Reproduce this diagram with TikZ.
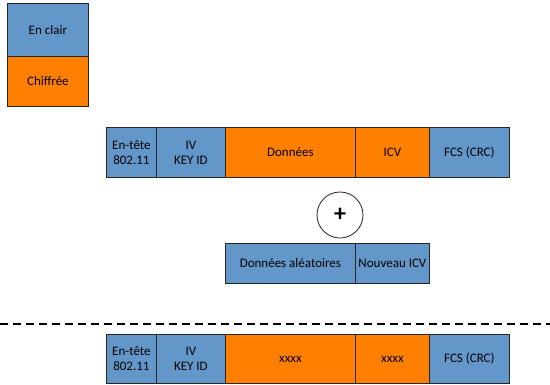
\documentclass[tikz,border=0pt]{standalone}
\usepackage{fontspec}
\setmainfont{Carlito}
\definecolor{clair}{HTML}{6497C9}
\definecolor{chiffre}{HTML}{FF8000}
\tikzset{
  field/.style={draw=black!85, line width=0.8pt, minimum height=#1, inner sep=0pt,
    font=\fontsize{13}{15}\selectfont, align=center, anchor=north west},
  plain/.style={field=#1, fill=clair},
  cipher/.style={field=#1, fill=chiffre},
}
\begin{document}
\begin{tikzpicture}[x=1pt, y=-1pt]
\useasboundingbox (0,0) rectangle (550,385);
% legend
\node[plain=53pt, minimum width=81pt] (legclair) at (7,3) {En clair};
\node[cipher=50pt, minimum width=81pt] (legchiff) at (7,56) {Chiffrée};
% original frame
\node[plain=50pt, minimum width=50pt] (hdr) at (106,127) {En-tête\\802.11};
\node[plain=50pt, minimum width=69pt] (iv) at (156,127) {IV\\KEY ID};
\node[cipher=50pt, minimum width=130pt] (data) at (225,127) {Données};
\node[cipher=50pt, minimum width=74pt] (icv) at (355,127) {ICV};
\node[plain=50pt, minimum width=80pt] (fcs) at (429,127) {FCS (CRC)};
% xor operator
\node[draw=black!85, line width=0.8pt, circle, minimum size=46pt, inner sep=0pt,
  font=\fontsize{24}{24}\bfseries] (xor) at (340,215) {+};
% keystream
\node[plain=40pt, minimum width=130pt] (rand) at (225,243) {Données aléatoires};
\node[plain=40pt, minimum width=74pt] (nicv) at (355,243) {Nouveau ICV};
% separator
\coordinate (sepl) at (0,324);
\coordinate (sepr) at (550,324);
\draw[line width=1.3pt, dash pattern=on 8pt off 5pt] (sepl) -- (sepr);
% resulting frame
\node[plain=49pt, minimum width=50pt] (hdr2) at (106,334) {En-tête\\802.11};
\node[plain=49pt, minimum width=69pt] (iv2) at (156,334) {IV\\KEY ID};
\node[cipher=49pt, minimum width=130pt] (data2) at (225,334) {xxxx};
\node[cipher=49pt, minimum width=74pt] (icv2) at (355,334) {xxxx};
\node[plain=49pt, minimum width=80pt] (fcs2) at (429,334) {FCS (CRC)};
\end{tikzpicture}
\end{document}
